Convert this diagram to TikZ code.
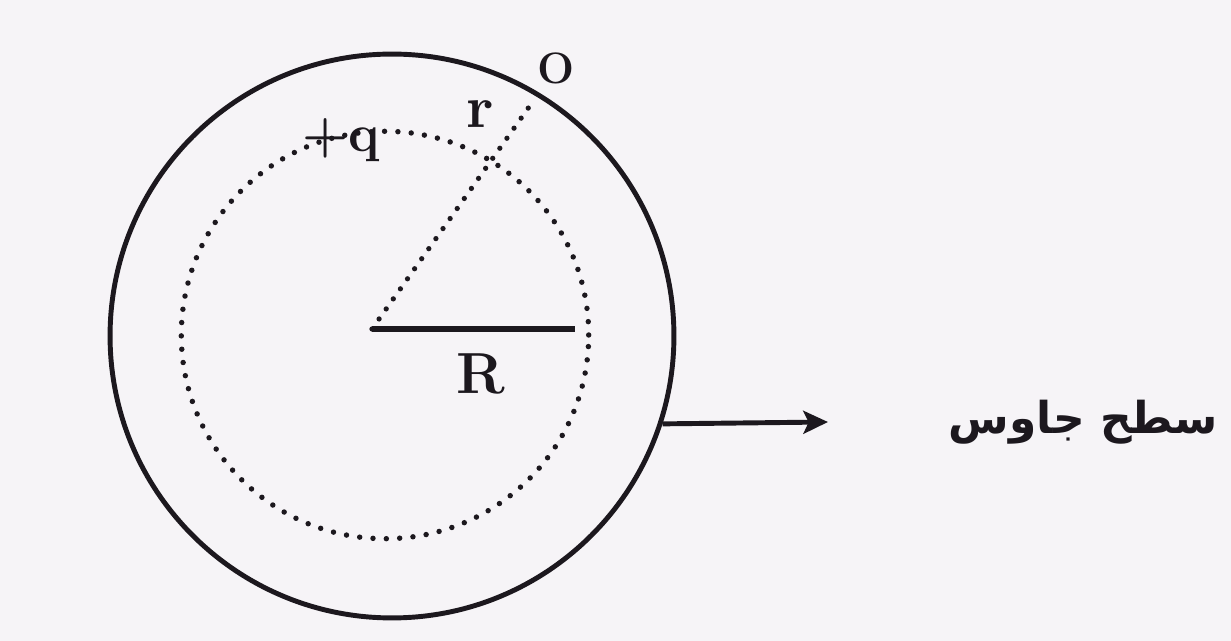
\documentclass[tikz,border=0pt]{standalone}
\usepackage{fontspec}
\usetikzlibrary{arrows.meta,positioning}
\newfontfamily\arabicfont[Script=Arabic]{DejaVu Sans}
\TeXXeTstate=1
\definecolor{ink}{RGB}{28,24,30}
\definecolor{paper}{RGB}{246,244,247}

\begin{document}
\begin{tikzpicture}[x=0.02cm,y=-0.02cm,node distance=3.1cm]
\fill[paper] (0,0) rectangle (1231,641);
\useasboundingbox (0,0) rectangle (1231,641);
\node[circle,draw=ink,line width=2.8pt,minimum size=11.28cm,inner sep=0] (sphere) at (392,336) {};
\node[circle,draw=ink,line width=3.1pt,line cap=round,dash pattern=on 0pt off 7.6pt,minimum size=8.15cm,inner sep=0] (gauss) at (385,335) {};
\coordinate (o) at (372,329);
\coordinate (rend) at (575,329);
\coordinate (p) at (529,107);
\coordinate (tip) at (828,422);
\draw[ink,line width=3pt] (o) -- (rend);
\draw[ink,line width=3pt,line cap=round,dash pattern=on 0pt off 7pt] (o) -- (p);
\draw[ink,line width=2.8pt,-{Stealth[length=14pt,width=13pt,inset=3pt]}] (sphere.-18) -- (tip);
\node[text=ink,inner sep=0,anchor=base,font=\fontsize{33}{38}\selectfont\bfseries] (rlabel) at (481,394) {R};
\node[text=ink,inner sep=0,anchor=base,font=\fontsize{34}{40}\selectfont\bfseries] (rsmall) at (480,128) {r};
\node[text=ink,inner sep=0,anchor=base,font=\fontsize{30}{36}\selectfont\bfseries] (charge) at (341,152) {+q};
\node[text=ink,inner sep=0,anchor=base,font=\fontsize{25}{30}\selectfont\bfseries] (point) at (556,84) {O};
\node[text=ink,inner sep=0,anchor=east,font=\fontsize{25}{30}\selectfont\arabicfont\bfseries] (surface) at (1218,422) {\beginR سطح جاوس\endR};
\end{tikzpicture}
\end{document}
